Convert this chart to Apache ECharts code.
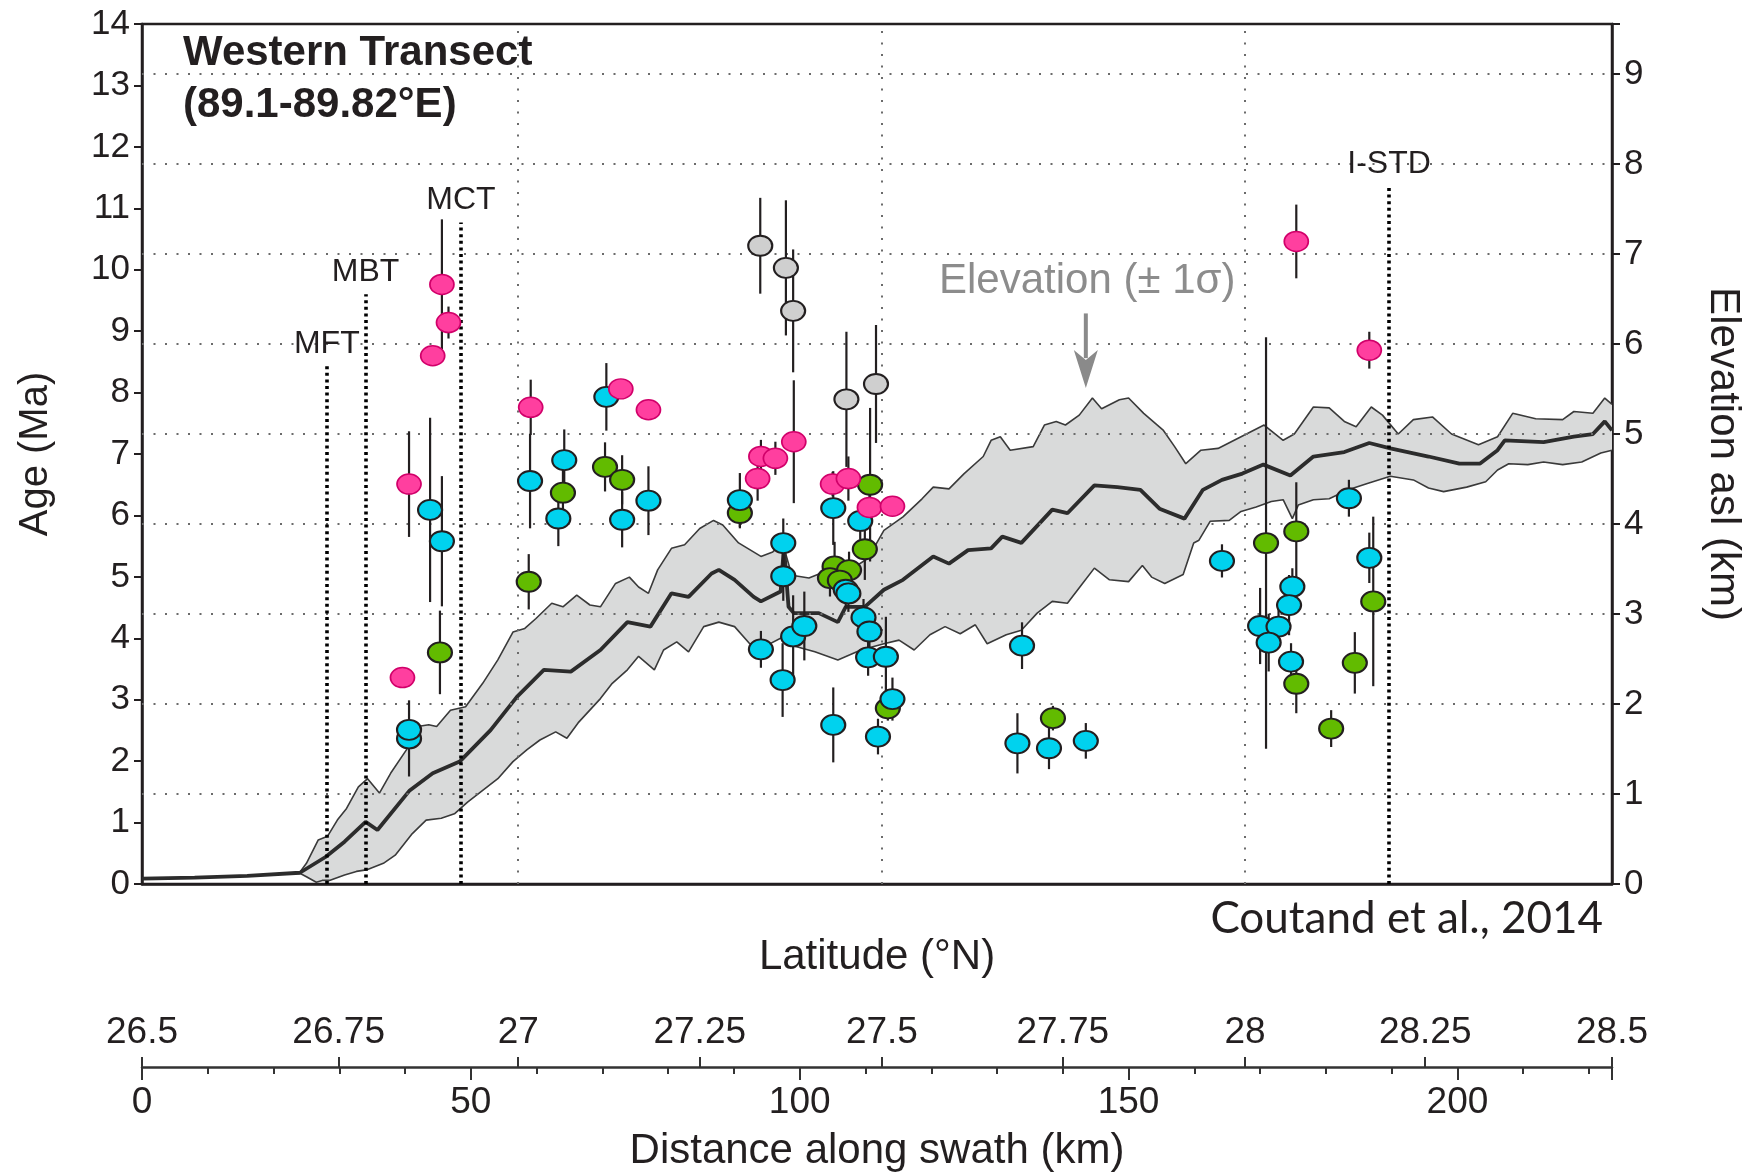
<!DOCTYPE html>
<html><head><meta charset="utf-8">
<script src="https://cdn.jsdelivr.net/npm/echarts@6/dist/echarts.min.js"></script>
<style>html,body{margin:0;padding:0;background:#fff}#c{width:1761px;height:1175px}</style>
</head><body><div id="c"></div>
<script>
// ---------- data ----------
const ageTicksMax = 14;
const elevMax = 9.556;              // elevation value at the top of the frame
const distMax = 223.5;              // km at the right edge
const elevGrid = [1,2,3,4,5,6,7,8,9];
const latGridKm = [57.2, 112.5, 167.7];           // latitude 27, 27.5, 28
const latLabels = ['26.5','26.75','27','27.25','27.5','27.75','28','28.25','28.5'];
const latKm = [0, 29.9, 57.2, 84.8, 112.5, 140.0, 167.7, 195.1, 223.5];

const faultNames = ['MFT','MBT','MCT','I-STD'];
const faultKm = [28.1, 34.0, 48.5, 189.6];
const faultTop = [8.43, 9.6, 10.77, 11.36];

// elevation profile (km along swath, elevation km)
const elevMean = [[0,0.06],[8,0.07],[16,0.09],[24,0.125],[27.9,0.30],[30.8,0.47],[34.0,0.69],[35.8,0.60],[40.7,1.04],[44.2,1.23],[48.3,1.36],[53.0,1.71],[57.0,2.08],[61.1,2.38],[65.2,2.36],[69.7,2.6],[73.8,2.91],[77.3,2.86],[80.5,3.23],[83.1,3.19],[86.6,3.45],[87.7,3.49],[90.1,3.38],[93.0,3.19],[94.1,3.14],[97.1,3.25],[97.6,3.75],[98.3,3.08],[99.1,3.01],[102.9,3.01],[105.8,2.91],[107.0,3.08],[109.9,3.08],[112.8,3.27],[115.7,3.38],[120.3,3.64],[122.7,3.56],[125.6,3.71],[129.1,3.73],[130.8,3.86],[133.7,3.79],[138.4,4.16],[140.7,4.12],[144.8,4.43],[148.3,4.41],[151.8,4.38],[154.7,4.17],[158.5,4.06],[161.3,4.38],[164.2,4.49],[167.3,4.56],[170.5,4.66],[174.6,4.54],[178.1,4.75],[182.8,4.8],[186.6,4.9],[189.8,4.84],[195.6,4.75],[200.3,4.67],[203.4,4.67],[206.1,4.82],[207.2,4.93],[213.1,4.91],[217.7,4.97],[220.6,5.0],[222.4,5.14],[223.5,5.04]];
const elevUpper = [[0,0.06],[8,0.07],[16,0.09],[24,0.13],[25.0,0.23],[26.8,0.49],[28.2,0.53],[29.7,0.71],[31.1,0.84],[32.9,1.08],[34.3,1.17],[36.1,1.01],[37.8,1.23],[40.2,1.49],[41.9,1.75],[43.6,1.77],[44.8,1.75],[46.9,1.93],[49.2,1.97],[51.8,2.23],[54.1,2.49],[56.4,2.80],[58.2,2.84],[59.9,2.95],[62.3,3.12],[64.0,3.08],[66.1,3.21],[68.1,3.10],[69.7,3.08],[72.0,3.34],[74.1,3.41],[75.5,3.30],[77.0,3.23],[78.4,3.49],[80.5,3.73],[82.5,3.77],[84.8,3.95],[86.9,4.04],[88.3,3.99],[90.7,3.79],[94.1,3.64],[95.9,3.69],[97.4,3.79],[98.8,3.43],[101.4,3.40],[103.5,3.46],[105.8,3.54],[108.1,3.51],[110.4,3.62],[112.8,3.93],[115.7,4.08],[118.6,4.28],[120.3,4.41],[122.7,4.39],[125.0,4.56],[127.9,4.75],[129.1,4.93],[130.5,4.97],[132.0,4.82],[135.5,4.86],[137.2,5.1],[139.0,5.14],[140.4,5.1],[142.5,5.21],[144.5,5.40],[145.9,5.28],[148.6,5.38],[150.0,5.40],[152.3,5.23],[155.3,5.04],[157.0,4.86],[158.7,4.67],[161.0,4.82],[163.6,4.84],[167.1,4.97],[170.6,5.1],[173.5,4.93],[175.2,5.0],[178.1,5.3],[180.5,5.29],[182.8,5.14],[184.6,5.08],[186.9,5.3],[188.6,5.21],[191.0,5.0],[193.3,5.16],[196.2,5.19],[199.1,5.0],[203.2,4.88],[206.1,4.97],[208.4,5.23],[211.9,5.17],[216.0,5.16],[217.7,5.25],[220.6,5.23],[222.4,5.4],[223.5,5.33]];
const elevLower = [[0,0.06],[8,0.07],[16,0.09],[24,0.12],[25,0.08],[26.5,0.02],[27.4,0.04],[28.5,0.04],[30.8,0.1],[32.6,0.14],[34.3,0.16],[36.7,0.23],[38.5,0.32],[41.1,0.56],[43.2,0.71],[45.5,0.73],[47.5,0.78],[49.5,0.91],[51.8,1.04],[54.1,1.17],[56.4,1.36],[58.5,1.49],[60.5,1.6],[62.9,1.69],[64.6,1.62],[66.3,1.79],[69.7,2.06],[71.5,2.23],[73.8,2.38],[75.5,2.53],[77.9,2.38],[79.3,2.6],[81.3,2.69],[83.1,2.58],[85.4,2.86],[87.7,2.91],[90.1,2.86],[92.4,2.67],[94.7,2.64],[97.6,2.75],[99.4,2.64],[102.3,2.58],[105.8,2.49],[109.3,2.6],[112.8,2.67],[115.1,2.71],[117.4,2.6],[119.8,2.77],[122.1,2.86],[124.4,2.78],[126.7,2.88],[128.5,2.67],[131.4,2.77],[133.7,2.82],[136.1,3.01],[138.4,3.14],[140.7,3.12],[143.0,3.34],[144.8,3.51],[147.1,3.38],[150.0,3.36],[152.1,3.54],[153.5,3.41],[155.5,3.34],[158.3,3.44],[159.9,3.79],[160.7,3.82],[162.4,4.03],[165.3,4.04],[167.1,4.14],[169.4,4.19],[171.7,4.25],[173.5,4.27],[174.9,4.06],[175.8,4.21],[178.1,4.27],[180.5,4.28],[183.4,4.38],[186.3,4.45],[189.8,4.53],[193.3,4.49],[195.6,4.40],[197.9,4.36],[201.4,4.41],[204.3,4.47],[206.1,4.6],[207.8,4.67],[210.7,4.66],[213.1,4.69],[216.0,4.66],[218.9,4.69],[221.8,4.79],[223.5,4.82]];
const arrowKm = 143.5, arrowFrom = 6.34, arrowTo = 5.51;

// thermochronology ages (km, Ma, ±Ma)
const pinkKm  = [39.6,40.6,44.2,45.6,46.6,59.1,72.8,77.0,93.6,94.1,96.3,99.1,105.0,107.4,110.6,114.1,175.5,186.6];
const pinkAge = [3.36,6.51,8.60,9.76,9.14,7.76,8.06,7.72,6.60,6.96,6.93,7.20,6.51,6.60,6.13,6.15,10.46,8.69];
const pinkErr = [0,0.86,0,1.06,0.26,0.45,0.15,0,0.36,0.27,0.27,1.0,0.2,0.36,0.3,0,0.6,0.3];

const cyanKm  = [40.6,40.6,43.8,45.6,59.0,63.3,64.2,70.6,73.0,77.0,90.9,94.1,97.5,97.5,97.4,99.0,100.7,105.1,105.1,107.0,107.4,109.2,109.7,110.6,110.4,113.1,114.1,111.9,133.8,133.1,137.9,143.5,164.2,170.0,172.8,171.3,174.9,174.4,174.7,183.5,186.6];
const cyanAge = [2.37,2.51,6.09,5.58,6.56,5.95,6.90,7.93,5.93,6.24,6.25,3.82,5.55,5.01,3.32,4.03,4.20,2.59,6.12,4.79,4.73,5.91,4.34,4.11,3.69,3.70,3.01,2.40,3.88,2.29,2.21,2.33,5.26,4.20,4.19,3.93,4.84,4.54,3.62,6.28,5.31];
const cyanErr = [0.62,0,1.5,1.06,0.77,0.45,0.5,0.55,0.45,0.56,0.44,0.3,0.4,0.4,0.6,0.67,0.56,0.61,0.6,0.3,0.3,0.3,0.3,0.3,0.3,0.65,0.35,0.29,0.38,0.49,0.34,0.29,0.27,0.62,0.3,0.47,0.3,0.49,0.3,0.3,0.41];

const greenKm  = [45.3,58.8,64.0,70.4,73.0,90.9,105.3,107.5,104.6,106.1,110.7,109.9,113.4,138.5,170.9,175.5,175.5,180.8,184.4,187.2];
const greenAge = [3.77,4.92,6.37,6.79,6.58,6.04,5.17,5.11,4.98,4.94,6.50,5.45,2.86,2.70,5.55,5.74,3.26,2.53,3.60,4.60];
const greenErr = [0.68,0.45,0.5,0.4,0.4,0.25,0.4,0.3,0.3,0.3,1.25,0.5,0.2,0.2,3.35,0.8,0.48,0.3,0.5,1.38];

const greyKm  = [94.0,97.9,99.0,107.1,111.6];
const greyAge = [10.39,10.03,9.33,7.89,8.14];
const greyErr = [0.78,1.1,1.0,1.1,0.96];

// ---------- chart ----------
const INK = '#231f20';
const FONT = '"Liberation Sans", Arial, Helvetica, sans-serif';
const ELL = 'path://M1,0A1,1 0 1 1 -1,0A1,1 0 1 1 1,0Z';

const pairs = (k, a) => k.map((x, i) => [x, a[i]]);
const bars = [];
[[pinkKm,pinkAge,pinkErr],[cyanKm,cyanAge,cyanErr],[greenKm,greenAge,greenErr],[greyKm,greyAge,greyErr]].forEach(([k,a,e]) => {
  k.forEach((x, i) => { if (e[i] > 0) bars.push([x, a[i] - e[i], a[i] + e[i]]); });
});

function scatter(name, k, a, fill, stroke, bw) {
  return {
    name, type: 'scatter', xAxisIndex: 0, yAxisIndex: 0, z: 10,
    data: pairs(k, a), symbol: ELL, symbolSize: [24, 20],
    itemStyle: { color: fill, borderColor: stroke, borderWidth: bw, opacity: 1 },
    emphasis: { disabled: true }, silent: true
  };
}

const chart = echarts.init(document.getElementById('c'), null, { renderer: 'canvas' });
chart.setOption({
  animation: false,
  backgroundColor: '#fff',
  textStyle: { fontFamily: FONT },
  title: {
    text: 'Western Transect\n(89.1-89.82°E)', left: 178, top: 22,
    textStyle: { fontFamily: FONT, fontSize: 42, fontWeight: 'bold', color: INK, lineHeight: 52 }
  },
  grid: [
    { left: 142, top: 24, width: 1470, height: 860, show: true, borderColor: INK, borderWidth: 2.5, backgroundColor: 'transparent' },
    { left: 142, top: 1066, width: 1470, height: 1, show: false }
  ],
  xAxis: [
    { gridIndex: 0, type: 'value', min: 0, max: distMax, position: 'bottom',
      axisLine: { show: true, onZero: false, lineStyle: { color: INK, width: 2.5 } },
      axisTick: { show: false }, axisLabel: { show: false }, splitLine: { show: false },
      name: 'Latitude (°N)', nameLocation: 'middle', nameGap: 52,
      nameTextStyle: { fontFamily: FONT, fontSize: 42, color: INK } },
    { gridIndex: 1, type: 'value', min: 0, max: distMax, interval: 50, position: 'bottom',
      axisLine: { show: true, onZero: false, lineStyle: { color: '#333', width: 2.5 } },
      axisTick: { show: true, length: 13, lineStyle: { color: '#333', width: 2 } },
      minorTick: { show: true, splitNumber: 5, length: 7, lineStyle: { color: '#333', width: 2 } },
      axisLabel: { fontFamily: FONT, fontSize: 37, color: INK, margin: 17,
        formatter: v => (Math.abs(v % 50) < 1e-6 ? String(v) : '') },
      splitLine: { show: false },
      name: 'Distance along swath (km)', nameLocation: 'middle', nameGap: 63,
      nameTextStyle: { fontFamily: FONT, fontSize: 42, color: INK } },
    { gridIndex: 1, type: 'value', min: 0, max: distMax, position: 'bottom',
      axisLine: { show: false },
      axisTick: { show: true, inside: true, length: 10, customValues: latKm, lineStyle: { color: '#333', width: 2 } },
      axisLabel: { show: true, inside: true, margin: 16, customValues: latKm, fontFamily: FONT, fontSize: 37, color: INK,
        formatter: v => { let bi = 0; latKm.forEach((k, i) => { if (Math.abs(k - v) < Math.abs(latKm[bi] - v)) bi = i; }); return latLabels[bi]; } },
      splitLine: { show: false } }
  ],
  yAxis: [
    { gridIndex: 0, type: 'value', min: 0, max: ageTicksMax, interval: 1, position: 'left',
      axisLine: { show: true, onZero: false, lineStyle: { color: INK, width: 2.5 } },
      axisTick: { show: true, length: 8, lineStyle: { color: INK, width: 2 } },
      axisLabel: { fontFamily: FONT, fontSize: 35, color: INK, margin: 12 },
      splitLine: { show: false },
      name: 'Age (Ma)', nameLocation: 'middle', nameGap: 86,
      nameTextStyle: { fontFamily: FONT, fontSize: 40, color: INK } },
    { gridIndex: 0, type: 'value', min: 0, max: elevMax, interval: 1, position: 'right',
      axisLine: { show: true, onZero: false, lineStyle: { color: INK, width: 2.5 } },
      axisTick: { show: true, length: 8, lineStyle: { color: INK, width: 2 } },
      axisLabel: { fontFamily: FONT, fontSize: 35, color: INK, margin: 12,
        formatter: v => (Math.abs(v - Math.round(v)) < 1e-6 ? String(Math.round(v)) : '') },
      splitLine: { show: false },
      name: 'Elevation asl (km)', nameLocation: 'middle', nameGap: 90, nameRotate: -90,
      nameTextStyle: { fontFamily: FONT, fontSize: 42, color: INK } },
    { gridIndex: 1, type: 'value', min: 0, max: 1, show: false }
  ],
  graphic: [
    { type: 'text', x: 939, y: 281, silent: true,
      style: { text: 'Elevation (± 1σ)', fontFamily: FONT, fontSize: 42, fill: '#8c8c8c', align: 'left', verticalAlign: 'middle' } },
    { type: 'text', x: 1603, y: 919, silent: true,
      style: { text: 'Coutand et al., 2014', fontFamily: 'Lato, sans-serif', fontSize: 44, fill: INK, align: 'right', verticalAlign: 'middle' } }
  ],
  series: [
    { // elevation ±1σ band
      type: 'custom', xAxisIndex: 0, yAxisIndex: 1, z: 2, silent: true,
      data: [[0, 0]], encode: { x: 0, y: 1 },
      renderItem: (params, api) => {
        const pts = elevUpper.map(p => api.coord(p)).concat(elevLower.slice().reverse().map(p => api.coord(p)));
        return { type: 'polygon', shape: { points: pts }, style: { fill: '#d9dada', stroke: null } };
      }
    },
    { type: 'line', xAxisIndex: 0, yAxisIndex: 1, z: 3, data: elevUpper, showSymbol: false, symbol: 'none', silent: true,
      lineStyle: { color: '#3a3a3a', width: 1.6 },
      markLine: { silent: true, symbol: 'none', label: { show: false },
        lineStyle: { color: '#6b6b6b', width: 2, type: [2, 9.5] },
        data: latGridKm.map(k => ({ xAxis: k })).concat(elevGrid.map(v => ({ yAxis: v }))) } },
    { type: 'line', xAxisIndex: 0, yAxisIndex: 1, z: 3, data: elevLower, showSymbol: false, symbol: 'none', silent: true,
      lineStyle: { color: '#3a3a3a', width: 1.6 } },
    { type: 'line', xAxisIndex: 0, yAxisIndex: 1, z: 4, data: elevMean, showSymbol: false, symbol: 'none', silent: true,
      lineStyle: { color: '#2c2c2c', width: 3.8 } },
    { // fault traces
      type: 'line', xAxisIndex: 0, yAxisIndex: 0, z: 5, data: [], silent: true,
      markLine: { silent: true, symbol: 'none',
        lineStyle: { color: '#000', width: 3.6, type: [3, 3.6] },
        label: { show: true, position: 'end', distance: 6, formatter: '{b}', fontFamily: FONT, fontSize: 32, color: INK },
        data: faultNames.map((n, i) => [{ coord: [faultKm[i], 0], name: n }, { coord: [faultKm[i], faultTop[i]] }]) } },
    { // annotation arrow
      type: 'custom', xAxisIndex: 0, yAxisIndex: 1, z: 5, silent: true,
      data: [[arrowKm, arrowFrom, arrowTo]], encode: { x: 0, y: [1, 2] },
      renderItem: (params, api) => {
        const a = api.coord([api.value(0), api.value(1)]);
        const b = api.coord([api.value(0), api.value(2)]);
        return { type: 'group', children: [
          { type: 'line', shape: { x1: a[0], y1: a[1], x2: b[0], y2: b[1] - 30 }, style: { stroke: '#8a8a8a', lineWidth: 4 } },
          { type: 'polygon', shape: { points: [[b[0], b[1]], [b[0] - 12, b[1] - 38], [b[0], b[1] - 28], [b[0] + 12, b[1] - 38]] }, style: { fill: '#8a8a8a' } }
        ] };
      }
    },
    { // error bars
      type: 'custom', xAxisIndex: 0, yAxisIndex: 0, z: 8, silent: true,
      data: bars, encode: { x: 0, y: [1, 2] },
      renderItem: (params, api) => {
        const p1 = api.coord([api.value(0), api.value(1)]);
        const p2 = api.coord([api.value(0), api.value(2)]);
        return { type: 'line', shape: { x1: p1[0], y1: p1[1], x2: p2[0], y2: p2[1] }, style: { stroke: INK, lineWidth: 2.2 } };
      }
    },
    scatter('grey', greyKm, greyAge, '#cfcfcf', INK, 2),
    scatter('green', greenKm, greenAge, '#62bb00', INK, 2),
    scatter('cyan', cyanKm, cyanAge, '#00d2ee', INK, 2),
    scatter('pink', pinkKm, pinkAge, '#ff3f9f', '#d1006a', 1.6)
  ]
});
</script></body></html>
